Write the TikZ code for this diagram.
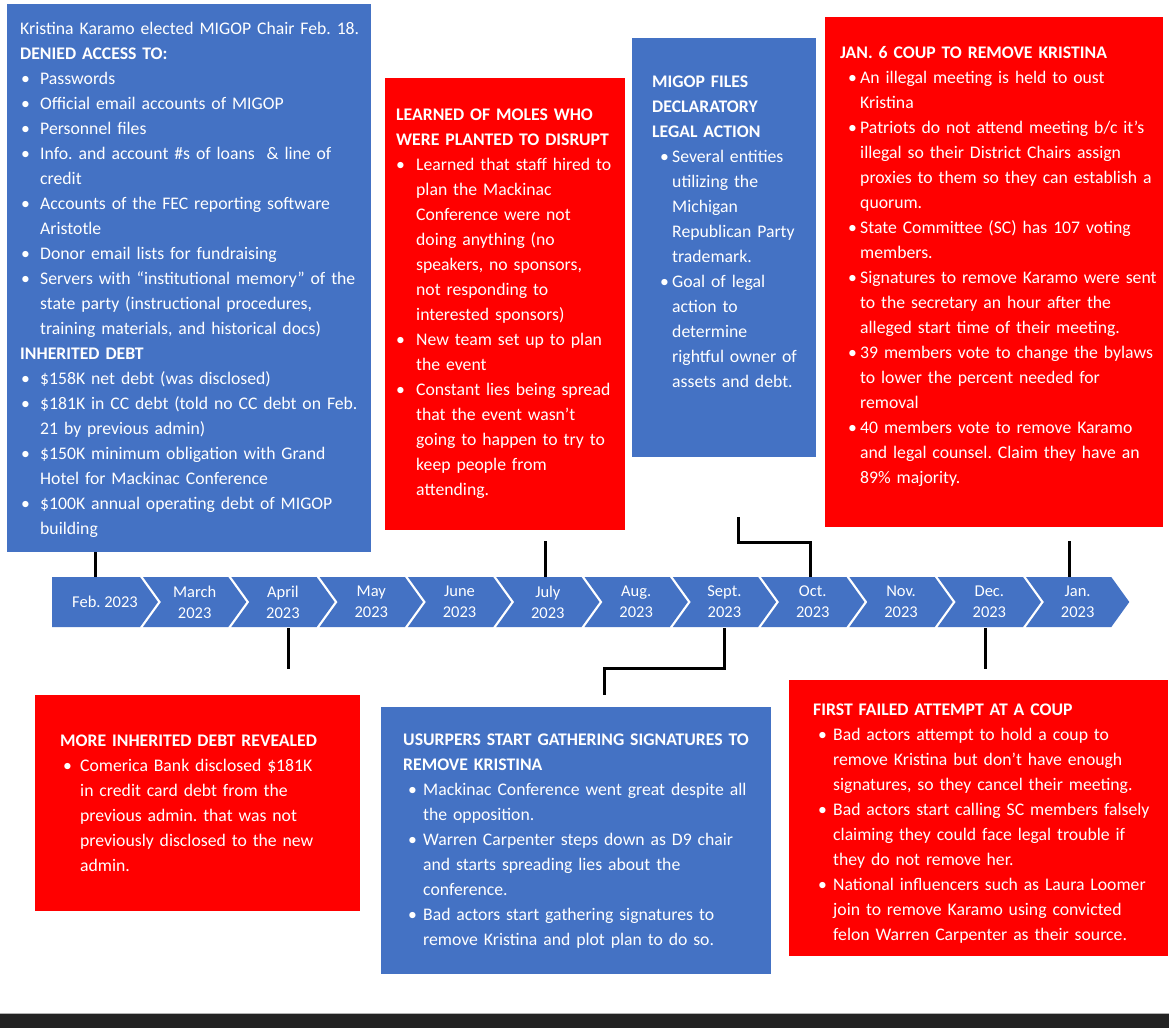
\documentclass[tikz,border=0pt]{standalone}
\usepackage{fontspec}
\setmainfont{Carlito}
\frenchspacing
\definecolor{obl}{HTML}{4472C4}
\definecolor{ored}{HTML}{FF0000}
\definecolor{barbk}{HTML}{232323}
\newcommand{\bit}[1][3pt]{\par\hangindent=20pt\hangafter=1\noindent\makebox[20pt][l]{\hspace{#1}\textbullet}}
\tikzset{
  box/.style={anchor=north west, inner sep=0pt, draw=none},
  txt/.style={inner sep=0pt, anchor=base west, text=white, text width=600pt, align=left,
    font=\fontsize{17.7}{25}\selectfont\frenchspacing},
  mlab/.style={inner sep=0pt, text=white, align=center, font=\fontsize{16.5}{21}\selectfont},
  conn/.style={line width=3pt, black},
}
\begin{document}
\begin{tikzpicture}[x=1pt,y=-1pt]
\useasboundingbox (0,0) rectangle (1169,1028);
\fill[white] (0,0) rectangle (1169,1028);
\fill[barbk] (0,1014) rectangle (1169,1028);
\draw[gray!60, line width=1pt] (0,1013.5) -- (1169,1013.5);

% boxes
\node[box, fill=obl, minimum width=364pt, minimum height=548pt] (b1) at (7,4) {};
\node[box, fill=ored, minimum width=240pt, minimum height=452pt] (b2) at (385,78) {};
\node[box, fill=obl, minimum width=184pt, minimum height=419pt] (b3) at (632,38) {};
\node[box, fill=ored, minimum width=338pt, minimum height=510pt] (b4) at (825,17) {};
\node[box, fill=ored, minimum width=325pt, minimum height=216pt] (b5) at (35,695) {};
\node[box, fill=obl, minimum width=390pt, minimum height=267pt] (b6) at (381,707) {};
\node[box, fill=ored, minimum width=379pt, minimum height=276pt] (b7) at (789,680) {};

% texts
\node[txt] (t1) at (20,34) {Kristina Karamo elected MIGOP Chair Feb. 18.\par
\textbf{DENIED ACCESS TO:}
\bit[1pt]Passwords
\bit[1pt]Official email accounts of MIGOP
\bit[1pt]Personnel files
\bit[1pt]Info. and account \#s of loans \ \& line of\newline credit
\bit[1pt]Accounts of the FEC reporting software\newline Aristotle
\bit[1pt]Donor email lists for fundraising
\bit[1pt]Servers with “institutional memory” of the\newline state party (instructional procedures,\newline training materials, and historical docs)
\par\noindent\textbf{INHERITED DEBT}
\bit[1pt]\$158K net debt (was disclosed)
\bit[1pt]\$181K in CC debt (told no CC debt on Feb.\newline 21 by previous admin)
\bit[1pt]\$150K minimum obligation with Grand\newline Hotel for Mackinac Conference
\bit[1pt]\$100K annual operating debt of MIGOP\newline building\par};

\node[txt] (t2) at (396,120) {\textbf{LEARNED OF MOLES WHO\newline WERE PLANTED TO DISRUPT}
\bit[0pt]Learned that staff hired to\newline plan the Mackinac\newline Conference were not\newline doing anything (no\newline speakers, no sponsors,\newline not responding to\newline interested sponsors)
\bit[0pt]New team set up to plan\newline the event
\bit[0pt]Constant lies being spread\newline that the event wasn’t\newline going to happen to try to\newline keep people from\newline attending.\par};

\node[txt] (t3) at (652,87) {\textbf{MIGOP FILES\newline DECLARATORY\newline LEGAL ACTION}
\bit[8pt]Several entities\newline utilizing the\newline Michigan\newline Republican Party\newline trademark.
\bit[8pt]Goal of legal\newline action to\newline determine\newline rightful owner of\newline assets and debt.\par};

\node[txt] (t4) at (840,58) {\textbf{JAN. 6 COUP TO REMOVE KRISTINA}
\bit[8pt]An illegal meeting is held to oust\newline Kristina
\bit[8pt]Patriots do not attend meeting b/c it’s\newline illegal so their District Chairs assign\newline proxies to them so they can establish a\newline quorum.
\bit[8pt]State Committee (SC) has 107 voting\newline members.
\bit[8pt]Signatures to remove Karamo were sent\newline to the secretary an hour after the\newline alleged start time of their meeting.
\bit[8pt]39 members vote to change the bylaws\newline to lower the percent needed for\newline removal
\bit[8pt]40 members vote to remove Karamo\newline and legal counsel. Claim they have an\newline 89\% majority.\par};

\node[txt] (t5) at (60,746) {\textbf{MORE INHERITED DEBT REVEALED}
\bit[3pt]Comerica Bank disclosed \$181K\newline in credit card debt from the\newline previous admin. that was not\newline previously disclosed to the new\newline admin.\par};

\node[txt] (t6) at (403,745) {\textbf{USURPERS START GATHERING SIGNATURES TO\newline REMOVE KRISTINA}
\bit[5pt]Mackinac Conference went great despite all\newline the opposition.
\bit[5pt]Warren Carpenter steps down as D9 chair\newline and starts spreading lies about the\newline conference.
\bit[5pt]Bad actors start gathering signatures to\newline remove Kristina and plot plan to do so.\par};

\node[txt] (t7) at (813,715) {\textbf{FIRST FAILED ATTEMPT AT A COUP}
\bit[5pt]Bad actors attempt to hold a coup to\newline remove Kristina but don’t have enough\newline signatures, so they cancel their meeting.
\bit[5pt]Bad actors start calling SC members falsely\newline claiming they could face legal trouble if\newline they do not remove her.
\bit[5pt]National influencers such as Laura Loomer\newline join to remove Karamo using convicted\newline felon Warren Carpenter as their source.\par};

% timeline
\fill[obl] (52,577) -- (140,577) -- (158,602) -- (140,627) -- (52,627) -- cycle;
\node[mlab] (m0) at (105,602) {Feb. 2023};
\foreach \i/\lab in {1/{March\\2023},2/{April\\2023},3/{May\\2023},4/{June\\2023},5/{July\\2023},6/{Aug.\\2023},7/{Sept.\\2023},8/{Oct.\\2023},9/{Nov.\\2023},10/{Dec.\\2023},11/{Jan.\\2023}}{
  \pgfmathsetmacro{\T}{158+88.3*\i}
  \pgfmathsetmacro{\L}{158+88.3*(\i-1)-15}
  \fill[obl] (\L,577) -- (\T-18,577) -- (\T,602) -- (\T-18,627) -- (\L,627) -- (\L+18,602) -- cycle;
  \node[mlab] (m\i) at ({(\L+\T)/2},602) {\lab};
}

% connector end points
\coordinate (kfeb) at (95,577);
\coordinate (kjul) at (545,577);
\coordinate (koct) at (810,577);
\coordinate (koctA) at (738,517);
\coordinate (kjan) at (1069,577);
\coordinate (kjanA) at (1069,541);
\coordinate (kjulA) at (545,541);
\coordinate (kapr) at (288,628);
\coordinate (kaprA) at (288,669);
\coordinate (ksep) at (724,628);
\coordinate (ksepA) at (604,695);
\coordinate (kdec) at (985,628);
\coordinate (kdecA) at (985,669);

\draw[conn] (b1.south -| kfeb) -- (kfeb);
\draw[conn] (kjulA) -- (kjul);
\draw[conn] (koctA) -- (738,542) -- (810,542) -- (koct);
\draw[conn] (kjanA) -- (kjan);
\draw[conn] (kapr) -- (kaprA);
\draw[conn] (ksep) -- (724,668) -- (604,668) -- (ksepA);
\draw[conn] (kdec) -- (kdecA);
\end{tikzpicture}
\end{document}
